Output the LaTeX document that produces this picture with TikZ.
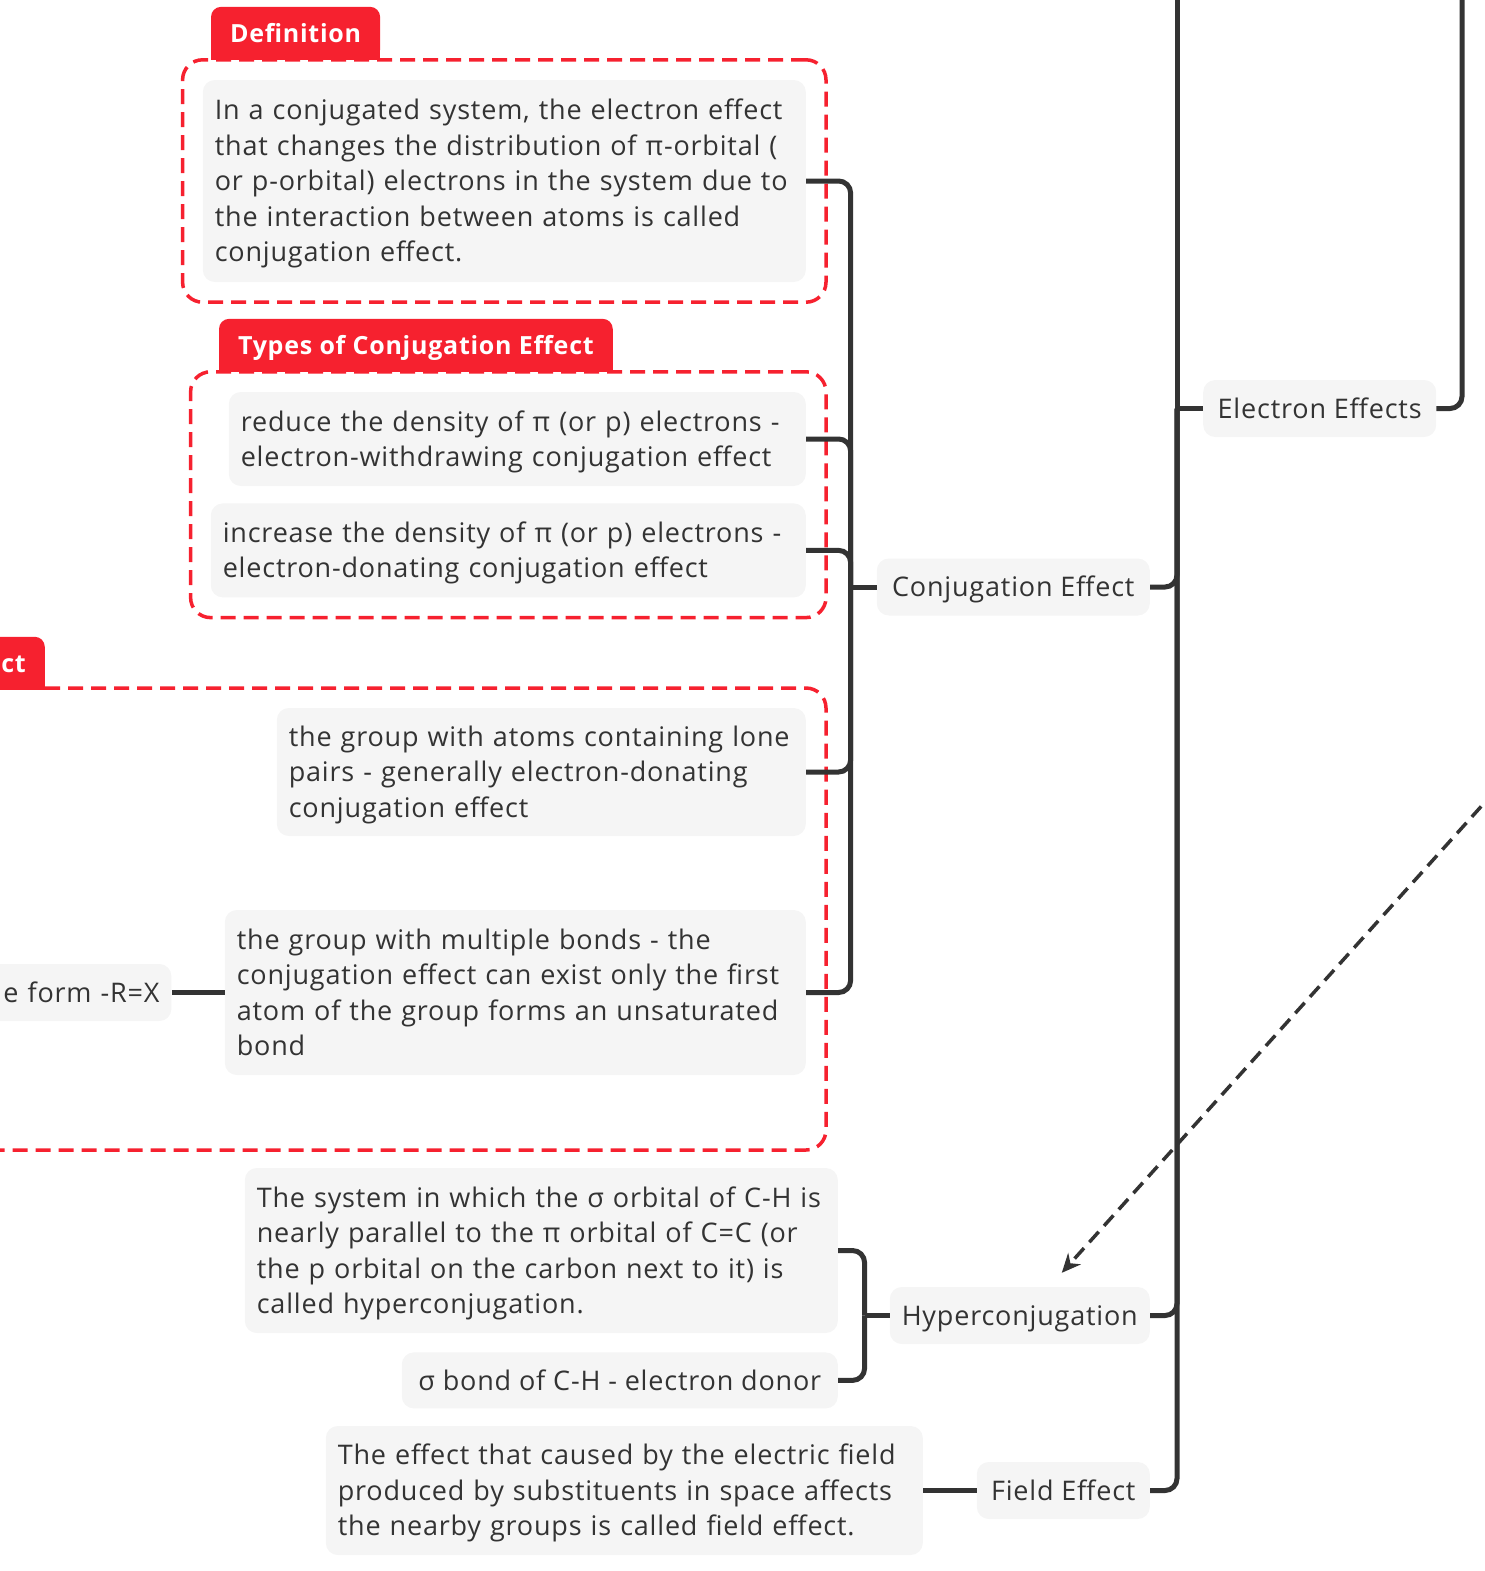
\documentclass[tikz,border=0pt]{standalone}
\usepackage{fontspec}
\setmainfont[LetterSpace=3]{Open Sans}
\usetikzlibrary{positioning,fit,arrows.meta}

\definecolor{tagred}{HTML}{F6212F}
\definecolor{linegray}{HTML}{333333}
\definecolor{boxgray}{HTML}{F5F5F5}
\definecolor{txtgray}{HTML}{333333}

\newcommand{\topicup}{\rule{0pt}{26pt}}
\newcommand{\topicdown}{\rule[-6.5pt]{0pt}{6.5pt}}
\newcommand{\tagup}{\rule{0pt}{24pt}}
\newcommand{\tagdown}{\rule[-6pt]{0pt}{6pt}}

\tikzstyle{topic} = [rectangle, rounded corners=12pt, fill=boxgray, text=txtgray, inner xsep=12pt, inner ysep=0pt, minimum height=57pt, execute at begin node={\topicup}, execute at end node={\topicdown}]
\tikzstyle{note} = [topic, align=left]
\tikzstyle{tag} = [rectangle, rounded corners=10pt, fill=tagred, text=white, font=\fontsize{25}{30}\bfseries, inner xsep=19pt, inner ysep=0pt, minimum height=53pt, execute at begin node={\tagup}, execute at end node={\tagdown}]
\tikzstyle{dashframe} = [rectangle, rounded corners=20pt, draw=tagred, line width=3.5pt, dash pattern=on 15pt off 8pt, inner sep=20pt]
\tikzstyle{link} = [draw=linegray, line width=5pt, rounded corners=12pt]
\tikzstyle{arrow} = [draw=linegray, line width=3.5pt, dash pattern=on 14pt off 8pt, ->, >={Stealth[length=19pt,width=17pt]}]

\begin{document}
\begin{tikzpicture}[x=1pt, y=-1pt, font=\fontsize{27}{35.5}\selectfont]
  \useasboundingbox (0,0) rectangle (1484,1571);
  \clip (0,0) rectangle (1484,1571);

  \node (ee) [topic, minimum width=233pt, anchor=west] at (1203,408.5) {Electron Effects};
  \node (ce) [topic, minimum width=273pt, anchor=east] at (1150,587) {Conjugation Effect};
  \node (hc) [topic, minimum width=259pt, anchor=east] at (1150,1315.5) {Hyperconjugation};
  \node (fe) [topic, minimum width=173pt, anchor=east] at (1150,1490.5) {Field Effect};

  \node (def) [note, text width=579pt, minimum height=202pt, anchor=east] at (806,181) {In a conjugated system, the electron effect\\that changes the distribution of π-orbital (\\or p-orbital) electrons in the system due to\\the interaction between atoms is called\\conjugation effect.};
  \node (red) [note, text width=553pt, minimum height=94pt, anchor=east] at (806,439) {reduce the density of π (or p) electrons -\\electron-withdrawing conjugation effect};
  \node (inc) [note, text width=571pt, minimum height=94pt, below=17pt of red.south east, anchor=north east] {increase the density of π (or p) electrons -\\electron-donating conjugation effect};
  \node (lone) [note, text width=505pt, minimum height=128pt, anchor=east] at (806,772) {the group with atoms containing lone\\pairs - generally electron-donating\\conjugation effect};
  \node (multi) [note, text width=557pt, minimum height=165pt, anchor=east] at (806,992.5) {the group with multiple bonds - the\\conjugation effect can exist only the first\\atom of the group forms an unsaturated\\bond};
  \node (form) [topic, text width=170pt, align=right, left=53pt of multi] {e form -R=X};

  \node (hyptxt) [note, text width=569pt, minimum height=165pt, anchor=east] at (838,1250.5) {The system in which the σ orbital of C-H is\\nearly parallel to the π orbital of C=C (or\\the p orbital on the carbon next to it) is\\called hyperconjugation.};
  \node (sigma) [topic, minimum width=436pt, minimum height=56pt, below=19pt of hyptxt.south east, anchor=north east] {σ bond of C-H - electron donor};
  \node (fetxt) [note, text width=573pt, minimum height=129pt, anchor=east] at (923,1490.5) {The effect that caused by the electric field\\produced by substituents in space affects\\the nearby groups is called field effect.};

  % boundaries and their labels
  \node (deffr) [dashframe, fit=(def)] {};
  \node (typesfr) [dashframe, fit=(red) (inc)] {};
  \draw [dashframe] (-60,688) rectangle (826,1150);
  \node (deftag) [tag, anchor=south west] at ([xshift=30pt,yshift=-2pt]deffr.north west) {Definition};
  \fill [tagred] ([yshift=12pt]deftag.south west) rectangle (deftag.south east);
  \node (typestag) [tag, anchor=south west] at ([xshift=30pt,yshift=-2pt]typesfr.north west) {Types of Conjugation Effect};
  \fill [tagred] ([yshift=12pt]typestag.south west) rectangle (typestag.south east);
  \node (grouptag) [tag, anchor=south east] at (45,690) {ct};
  \fill [tagred] ([yshift=12pt]grouptag.south west) rectangle (grouptag.south east);

  \coordinate (eetop) at (1177,-40);
  \coordinate (eeup) at (1462,-40);
  \coordinate (src) at (1540,741);
  \coordinate (hcin) at ([xshift=42pt,yshift=14pt]hc.north);

  \draw [link, sharp corners] (ee.west) -| (eetop);
  \draw [link] (ee.east) -| (eeup);
  \draw [link] (ce.east) -| (ee.west -| eetop);
  \draw [link] (hc.east) -| (ee.west -| eetop);
  \draw [link] (fe.east) -| (ee.west -| eetop);

  \draw [link] (ce.west) -- ++(-26,0);
  \draw [link] (def.east) -| ([xshift=-26pt]ce.west);
  \draw [link] (red.east) -| ([xshift=-26pt]ce.west);
  \draw [link] (inc.east) -| ([xshift=-26pt]ce.west);
  \draw [link] (lone.east) -| ([xshift=-26pt]ce.west);
  \draw [link] (multi.east) -| ([xshift=-26pt]ce.west);
  \draw [link] (multi.west) -- (form.east);

  \draw [link] (hc.west) -- ++(-25,0);
  \draw [link] (hyptxt.east) -| ([xshift=-25pt]hc.west);
  \draw [link] (sigma.east) -| ([xshift=-25pt]hc.west);
  \draw [link] (fe.west) -- (fetxt.east);

  \draw [arrow] (src) -- (hcin);
\end{tikzpicture}
\end{document}
